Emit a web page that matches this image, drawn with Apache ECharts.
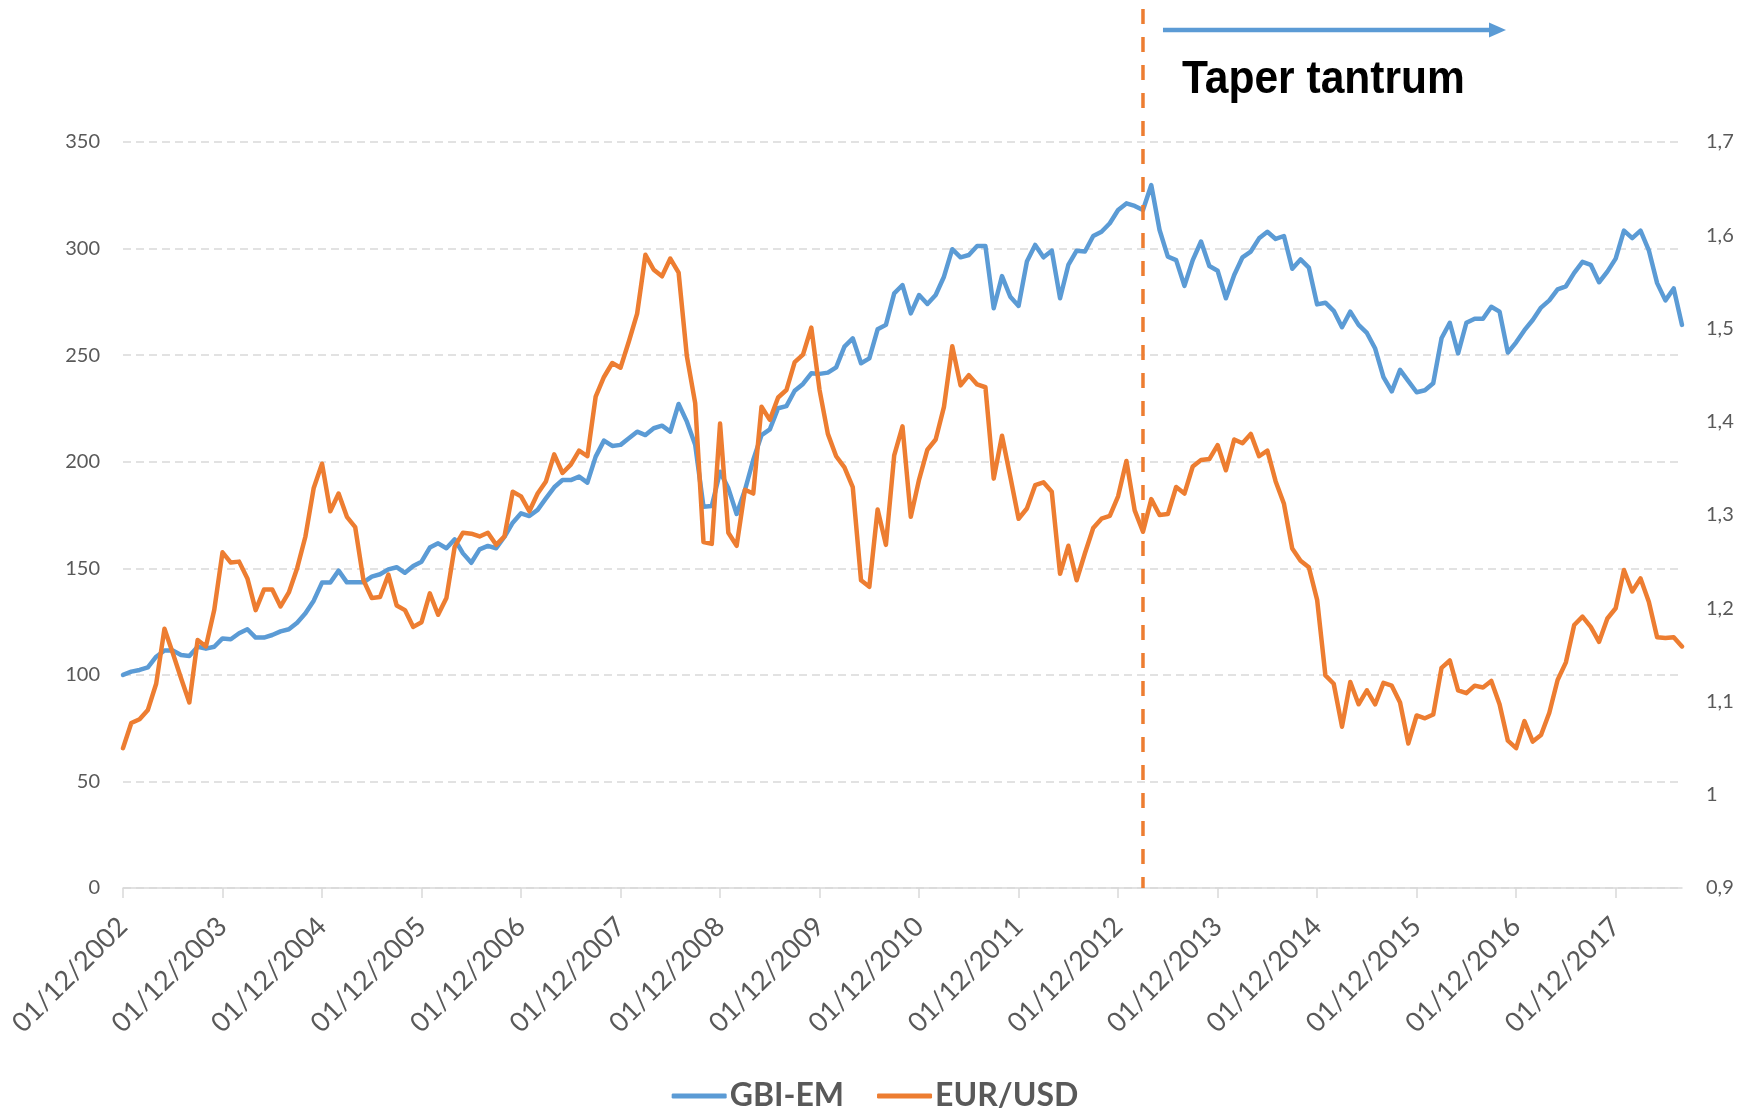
<!DOCTYPE html>
<html><head><meta charset="utf-8">
<script src="https://cdn.jsdelivr.net/npm/echarts@6/dist/echarts.min.js"></script>
<style>html,body{margin:0;padding:0;background:#fff;}#c{width:1750px;height:1110px;}</style>
</head><body><div id="c"></div>
<script>
// ---- data ----
const startYear = 2002, startMonth = 12, nMonths = 189;
const categories = [];
for (let i = 0; i < nMonths; i++) {
  const m = (startMonth - 1 + i) % 12 + 1;
  const y = startYear + Math.floor((startMonth - 1 + i) / 12);
  categories.push('01/' + String(m).padStart(2, '0') + '/' + y);
}
const gbiEM = [
100,101.5,102.3,103.5,108.5,111.4,111.4,109.3,108.9,113.2,112.3,113.2,
117.1,116.7,119.5,121.4,117.5,117.5,118.7,120.4,121.4,124.5,128.9,134.8,
143.3,143.3,148.9,143.4,143.4,143.4,146.1,147.2,149.5,150.5,147.9,151.1,
153.1,159.7,161.7,159.4,163.6,157.0,152.6,158.9,160.5,159.4,164.8,171.4,
175.8,174.5,177.4,182.8,188.0,191.4,191.4,193.0,190.2,202.4,209.9,207.4,
207.9,211.0,214.1,212.5,215.7,216.9,214.1,227.1,218.8,208.0,178.9,179.2,
195.3,187.5,175.5,186.7,200.8,212.5,215.2,225.1,226.1,233.3,236.5,241.5,
241.2,241.8,244.3,254.0,257.9,246.2,248.5,262.1,264.2,279.0,282.9,269.6,
278.2,274.0,278.2,286.8,299.7,295.9,297.0,301.2,301.2,272.0,287.1,277.4,
273.1,293.9,301.7,295.9,299.0,276.7,292.3,299.0,298.6,305.9,307.9,311.9,
318.1,321.2,320.0,318.1,329.8,308.7,296.2,294.6,282.5,294.6,303.3,291.8,
289.6,276.7,287.6,295.9,298.6,304.8,307.9,304.5,305.9,290.5,294.9,291.1,
273.8,274.6,270.8,263.1,270.4,264.2,260.4,253.1,239.7,233.0,243.1,237.8,
232.6,233.5,236.8,257.9,265.2,250.8,265.2,267.1,267.1,272.7,270.4,251.2,
256.0,261.7,266.5,272.3,275.7,280.9,282.3,288.6,293.8,292.4,284.2,289.2,
295.3,308.4,304.9,308.4,299.2,283.8,275.7,281.3,264.2
];
const eurUsd = [
1.050,1.077,1.081,1.091,1.119,1.178,1.152,1.125,1.099,1.166,1.159,1.198,
1.260,1.249,1.250,1.232,1.198,1.220,1.220,1.202,1.217,1.243,1.277,1.329,
1.355,1.304,1.323,1.298,1.287,1.230,1.211,1.212,1.236,1.203,1.198,1.180,
1.185,1.216,1.193,1.211,1.266,1.281,1.280,1.277,1.281,1.268,1.277,1.325,
1.320,1.304,1.323,1.336,1.365,1.345,1.354,1.369,1.363,1.427,1.448,1.463,
1.458,1.486,1.516,1.579,1.563,1.556,1.575,1.560,1.470,1.420,1.271,1.269,
1.398,1.281,1.267,1.327,1.323,1.416,1.402,1.426,1.434,1.464,1.472,1.501,
1.434,1.387,1.363,1.351,1.330,1.230,1.223,1.306,1.268,1.364,1.395,1.298,
1.338,1.370,1.381,1.416,1.481,1.439,1.450,1.440,1.437,1.339,1.385,1.341,
1.296,1.307,1.332,1.335,1.325,1.237,1.267,1.230,1.259,1.286,1.296,1.299,
1.320,1.358,1.305,1.282,1.317,1.300,1.301,1.330,1.323,1.352,1.359,1.360,
1.375,1.348,1.381,1.377,1.387,1.363,1.369,1.336,1.312,1.264,1.251,1.244,
1.209,1.128,1.119,1.073,1.121,1.097,1.112,1.097,1.120,1.117,1.099,1.055,
1.085,1.082,1.086,1.136,1.144,1.112,1.109,1.117,1.115,1.122,1.097,1.058,
1.050,1.079,1.057,1.064,1.088,1.123,1.142,1.182,1.191,1.180,1.164,1.189,
1.200,1.241,1.218,1.232,1.207,1.169,1.168,1.169,1.159
];
const leftAxis = { min: 0, max: 350, interval: 50 };
const rightAxis = { min: 0.9, max: 1.7, interval: 0.1 };
const seriesNames = ['GBI-EM', 'EUR/USD'];
const markerDate = '01/03/2013';
const annotationText = 'Taper tantrum';

// ---- chart ----
const BLUE = '#5B9BD5', ORANGE = '#ED7D31', GRID = '#D9D9D9', TXT = '#595959';
const chart = echarts.init(document.getElementById('c'));
const option = {
  animation: false,
  backgroundColor: '#fff',
  grid: { left: 123, right: 68, top: 142, bottom: 222, containLabel: false, outerBoundsMode: 'none' },
  legend: {
    data: seriesNames.map(n => ({ name: n, icon: 'roundRect' })),
    left: 'center', top: 1075,
    itemWidth: 55, itemHeight: 5, itemGap: 33,
    textStyle: { fontFamily: 'Lato', fontWeight: 'bold', fontSize: 32, color: TXT, padding: [0, 0, 0, -2] }
  },
  xAxis: {
    type: 'category', data: categories, boundaryGap: false,
    axisLine: { lineStyle: { color: GRID, width: 1.5 } },
    axisTick: { interval: 11, length: 10, lineStyle: { color: GRID, width: 1.5 } },
    axisLabel: { interval: 11, rotate: 45, fontSize: 27, color: TXT, fontFamily: 'Lato', margin: 34 },
    splitLine: { show: false }
  },
  yAxis: [
    {
      type: 'value', min: leftAxis.min, max: leftAxis.max, interval: leftAxis.interval,
      axisLine: { show: false }, axisTick: { show: false },
      axisLabel: { fontSize: 20, color: TXT, fontFamily: 'Lato', margin: 23 },
      splitLine: { lineStyle: { color: GRID, width: 1.5, type: [8, 5] } }
    },
    {
      type: 'value', position: 'right', min: rightAxis.min, max: rightAxis.max, interval: rightAxis.interval,
      axisLine: { show: false }, axisTick: { show: false }, splitLine: { show: false },
      axisLabel: {
        fontSize: 20, color: TXT, fontFamily: 'Lato', margin: 24,
        formatter: v => String(+(+v).toFixed(1)).replace('.', ',')
      }
    }
  ],
  series: [
    { name: seriesNames[0], type: 'line', yAxisIndex: 0, data: gbiEM, symbol: 'none', color: BLUE,
      lineStyle: { width: 4.5, color: BLUE, cap: 'round', join: 'round' } },
    { name: seriesNames[1], type: 'line', yAxisIndex: 1, data: eurUsd, symbol: 'none', color: ORANGE,
      lineStyle: { width: 4.5, color: ORANGE, cap: 'round', join: 'round' } }
  ]
};
chart.setOption(option);

const xm = chart.convertToPixel({ xAxisIndex: 0 }, markerDate);
const yBottom = chart.convertToPixel({ yAxisIndex: 0 }, leftAxis.min);
chart.setOption({
  graphic: [
    { type: 'line', z: 100, shape: { x1: xm, y1: 9, x2: xm, y2: yBottom },
      style: { stroke: ORANGE, lineWidth: 3.5, lineDash: [15, 13] } },
    { type: 'line', z: 100, shape: { x1: xm + 20, y1: 30, x2: xm + 348, y2: 30 },
      style: { stroke: BLUE, lineWidth: 4.5 } },
    { type: 'polygon', z: 100, shape: { points: [[xm + 346, 22.5], [xm + 363, 30], [xm + 346, 37.5]] },
      style: { fill: BLUE } },
    { type: 'text', z: 100, x: xm + 39, y: 80, scaleX: 0.905,
      style: { text: annotationText, font: 'bold 47px "Liberation Sans", Arial, sans-serif',
               fill: '#000', textAlign: 'left', verticalAlign: 'middle' } }
  ]
});
</script></body></html>
